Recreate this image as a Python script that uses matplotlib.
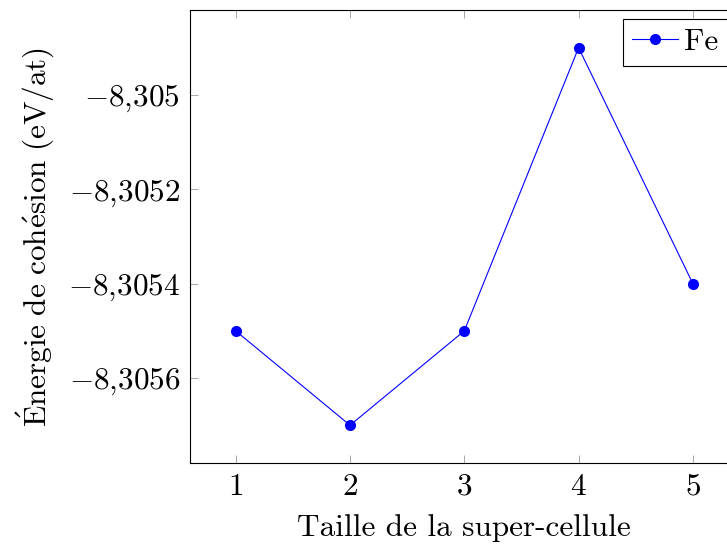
import matplotlib
matplotlib.use("Agg")
import matplotlib.pyplot as plt

plt.rcParams['font.family'] = 'serif'
plt.rcParams['font.serif'] = ['cmr10']
plt.rcParams['mathtext.fontset'] = 'cm'
plt.rcParams['axes.unicode_minus'] = False

taille = [1, 2, 3, 4, 5]
energie_fe = [-8.3055, -8.3057, -8.3055, -8.30490, -8.3054]

yticks = [-8.3050, -8.3052, -8.3054, -8.3056]
ytick_labels = [r'$-8{,}305$', r'$-8{,}3052$', r'$-8{,}3054$', r'$-8{,}3056$']
xticks = [1, 2, 3, 4, 5]

fs = 22.5

fig = plt.figure(figsize=(7.27, 5.47), dpi=100)
ax = fig.add_axes([190 / 727, 84 / 547, 548.6 / 727, 453 / 547])

ax.plot(taille, energie_fe, color='blue', lw=0.8, marker='o', ms=8,
        markerfacecolor='blue', markeredgewidth=0, label='Fe')

# pgfplots-like 10% enlargement of the limits
xr = max(taille) - min(taille)
yr = max(energie_fe) - min(energie_fe)
ax.set_xlim(min(taille) - 0.1 * xr, max(taille) + 0.1 * xr)
ax.set_ylim(min(energie_fe) - 0.1 * yr, max(energie_fe) + 0.1 * yr)

ax.set_xticks(xticks)
ax.set_xticklabels([r'$%d$' % t for t in xticks])
ax.set_yticks(yticks)
ax.set_yticklabels(ytick_labels)

ax.tick_params(direction='in', length=6, width=0.6, color='#999999',
               top=True, right=True, labelsize=fs, pad=7)
for s in ax.spines.values():
    s.set_linewidth(0.8)

ax.set_xlabel('Taille de la super-cellule', fontsize=fs, labelpad=10)
ax.set_ylabel(r'$\mathrm{\acute{E}nergie\ de\ coh\acute{e}sion\ (eV/at)}$',
              fontsize=fs, labelpad=8)

leg = ax.legend(loc='upper right', bbox_to_anchor=(0.98, 0.98), borderaxespad=0,
                fontsize=fs, fancybox=False, edgecolor='black', framealpha=1,
                handlelength=1.45, handletextpad=0.2, borderpad=0.3)
leg.get_frame().set_linewidth(0.8)

fig.savefig('out.png', dpi=100)
